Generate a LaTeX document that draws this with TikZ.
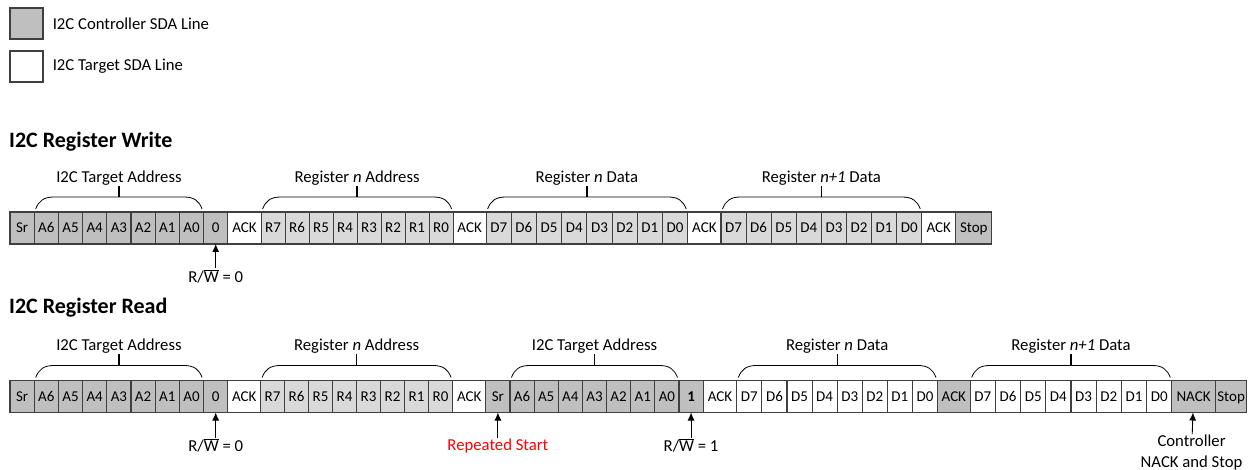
\documentclass[tikz,border=0pt]{standalone}
\usepackage{fontspec}
\setmainfont{Carlito}
\usetikzlibrary{calc,positioning,arrows.meta}

\definecolor{ctrlgray}{HTML}{BFBFBF}
\definecolor{reggray}{HTML}{D9D9D9}
\definecolor{framegray}{HTML}{3F3F3F}
\definecolor{rsred}{HTML}{FF0000}

\tikzset{
  cell/.style={draw=framegray, line width=1.1pt, minimum height=32pt, inner sep=0pt, outer sep=0pt,
    text height=10pt, text depth=0pt, font=\fontsize{15}{18}\selectfont},
  lbl/.style={font=\fontsize{16.7}{21}\selectfont, inner sep=1pt},
  ttl/.style={font=\fontsize{22}{26}\selectfont\bfseries, anchor=west, inner sep=0pt},
  legbox/.style={draw=framegray, line width=1.1pt, minimum width=33pt, minimum height=31pt},
  brc/.style={line width=0.8pt},
  sig/.style={-{Latex[length=8pt,width=7pt]}, line width=0.9pt},
}

% brace over the cells #1 ... #2, named #3, text #4
\newcommand{\fieldbrace}[4]{%
  \coordinate (#3l) at ($(#1.north west)+(1.5,3)$);
  \coordinate (#3r) at ($(#2.north east)+(-1.5,3)$);
  \draw[brc] (#3l) .. controls +(3,8) and +(-10,0) .. ($(#3l)+(18,12)$)
    -- ($(#3r)+(-18,12)$) .. controls +(10,0) and +(-3,8) .. (#3r);
  \coordinate (#3m) at ($(#3l)!0.5!(#3r)+(0,12)$);
  \draw[brc, line width=1.3pt] (#3m) -- ++(0,11) node[lbl, anchor=south, inner sep=0pt] (#3t) {#4};
}

\begin{document}
\begin{tikzpicture}[x=1pt,y=1pt]
\useasboundingbox (0,0) rectangle (1256,-470);

% legend
\node[legbox, fill=ctrlgray] (lg1) at (26.5,-23.5) {};
\node[legbox, fill=white] (lg2) at (26.5,-66.5) {};
\node[lbl, right=8pt of lg1] (lt1) {I2C Controller SDA Line};
\node[lbl, right=8pt of lg2] (lt2) {I2C Target SDA Line};

% titles
\node[ttl] (tw) at (9,-142) {I2C Register Write};
\node[ttl] (tr) at (9,-308) {I2C Register Read};

% register write frame
\coordinate (w0) at (10,-228);
\foreach \lab/\cw/\fl [count=\i, remember=\i as \j (initially 0)] in {
  Sr/24.2/ctrlgray, A6/24.2/ctrlgray, A5/24.2/ctrlgray, A4/24.2/ctrlgray, A3/24.2/ctrlgray,
  A2/24.2/ctrlgray, A1/24.2/ctrlgray, A0/24.2/ctrlgray, 0/24.2/ctrlgray, ACK/33.3/white,
  R7/24/reggray, R6/24/reggray, R5/24/reggray, R4/24/reggray, R3/24/reggray,
  R2/24/reggray, R1/24/reggray, R0/24/reggray, ACK/33/white,
  D7/25.2/reggray, D6/25.2/reggray, D5/25.2/reggray, D4/25.2/reggray, D3/25.2/reggray,
  D2/25.2/reggray, D1/25.2/reggray, D0/25.2/reggray, ACK/33.3/white,
  D7/25.1/reggray, D6/25.1/reggray, D5/25.1/reggray, D4/25.1/reggray, D3/25.1/reggray,
  D2/25.1/reggray, D1/25.1/reggray, D0/25.1/reggray, ACK/34/white, Stop/36/ctrlgray}
  \node[cell, minimum width=\cw pt, fill=\fl, right=0pt of w\j] (w\i) {\lab};

\fieldbrace{w2}{w8}{bwa}{I2C Target Address}
\fieldbrace{w11}{w18}{bwr}{Register \textit{n} Address}
\fieldbrace{w20}{w27}{bwd}{Register \textit{n} Data}
\fieldbrace{w29}{w36}{bwe}{Register \textit{n+1} Data}

\node[lbl] (rw0) at ($(w9.south)+(0,-32)$) {R/\ensuremath{\overline{\mbox{W}}} = 0};
\draw[sig] (rw0) -- (w9);

% register read frame
\coordinate (r0) at (10,-396.5);
\foreach \lab/\cw/\fl [count=\i, remember=\i as \j (initially 0)] in {
  Sr/24.2/ctrlgray, A6/24.2/ctrlgray, A5/24.2/ctrlgray, A4/24.2/ctrlgray, A3/24.2/ctrlgray,
  A2/24.2/ctrlgray, A1/24.2/ctrlgray, A0/24.2/ctrlgray, 0/24.2/ctrlgray, ACK/32.8/white,
  R7/24/reggray, R6/24/reggray, R5/24/reggray, R4/24/reggray, R3/24/reggray,
  R2/24/reggray, R1/24/reggray, R0/24/reggray, ACK/33.2/white,
  Sr/24.15/ctrlgray, A6/24.15/ctrlgray, A5/24.15/ctrlgray, A4/24.15/ctrlgray, A3/24.15/ctrlgray,
  A2/24.15/ctrlgray, A1/24.15/ctrlgray, A0/24.15/ctrlgray, \textbf{1}/24.15/ctrlgray, ACK/33.7/white,
  D7/25.08/white, D6/25.08/white, D5/25.08/white, D4/25.08/white, D3/25.08/white,
  D2/25.08/white, D1/25.08/white, D0/25.08/white, ACK/32.7/ctrlgray,
  D7/25.2/white, D6/25.2/white, D5/25.2/white, D4/25.2/white, D3/25.2/white,
  D2/25.2/white, D1/25.2/white, D0/25.2/white, NACK/43.5/ctrlgray, Stop/31.6/ctrlgray}
  \node[cell, minimum width=\cw pt, fill=\fl, right=0pt of r\j] (r\i) {\lab};

\fieldbrace{r2}{r8}{bra}{I2C Target Address}
\fieldbrace{r11}{r18}{brr}{Register \textit{n} Address}
\fieldbrace{r21}{r27}{brb}{I2C Target Address}
\fieldbrace{r30}{r37}{brd}{Register \textit{n} Data}
\fieldbrace{r39}{r46}{bre}{Register \textit{n+1} Data}

\node[lbl] (rw1) at ($(r9.south)+(0,-33)$) {R/\ensuremath{\overline{\mbox{W}}} = 0};
\node[lbl, text=rsred] (rst) at ($(r20.south)+(0,-34)$) {Repeated Start};
\node[lbl] (rw2) at ($(r28.south)+(0,-33)$) {R/\ensuremath{\overline{\mbox{W}}} = 1};
\node[lbl, align=center] (cns) at ($(r47.south)+(-2,-40.5)$) {Controller\\NACK and Stop};
\draw[sig] (rw1) -- (r9);
\draw[sig] (rst) -- (r20);
\draw[sig] (rw2) -- (r28);
\draw[sig] (cns) -- (r47);
\end{tikzpicture}
\end{document}
